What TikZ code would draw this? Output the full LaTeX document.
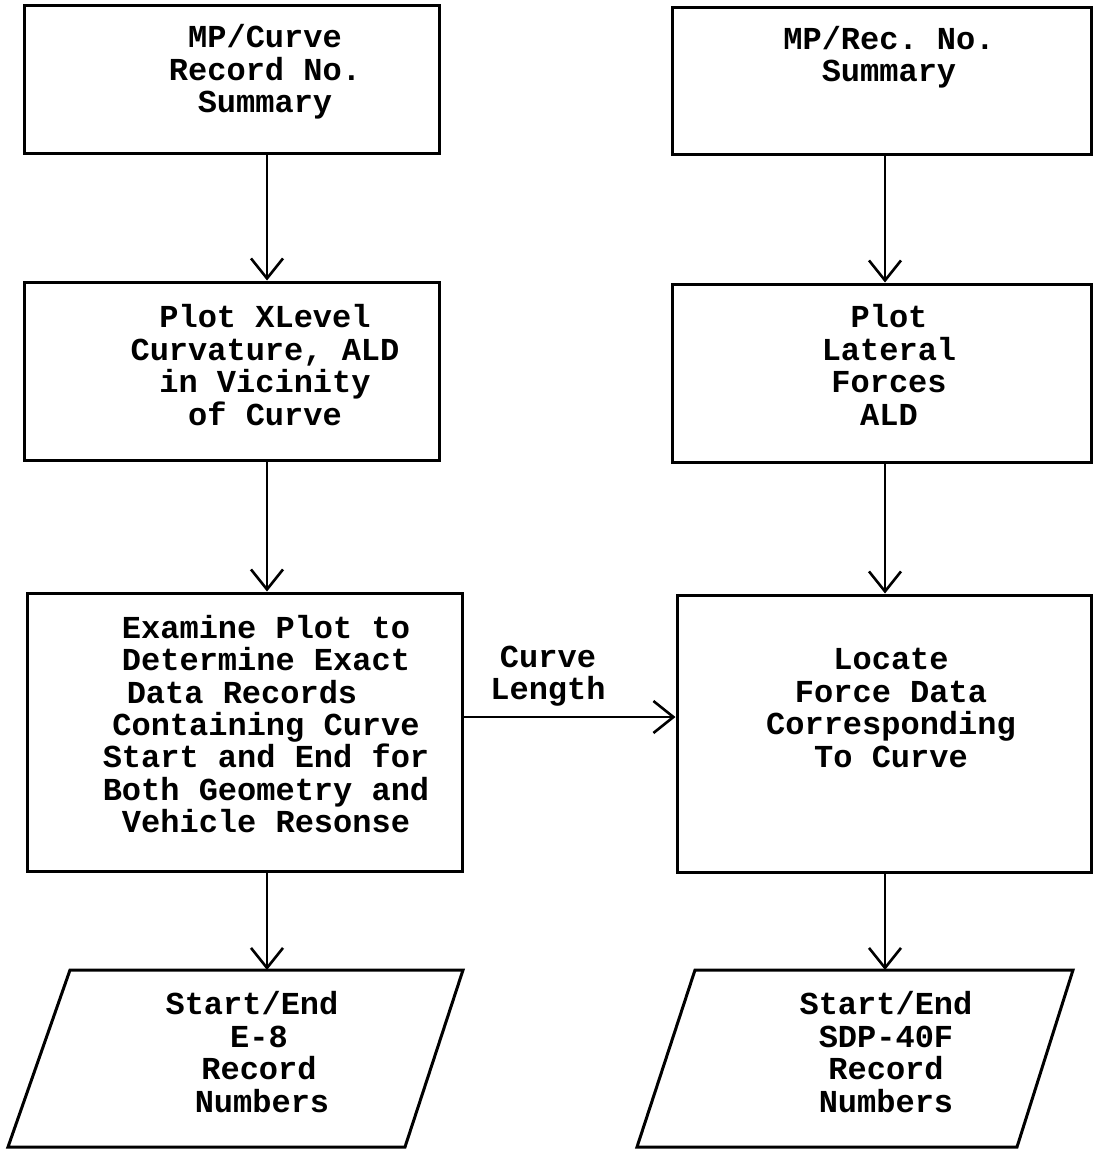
\documentclass[tikz,border=0pt]{standalone}
\usepackage{fontspec}
\setmonofont{Liberation Mono}
\usetikzlibrary{arrows.meta,fit}
\tikzset{
  box/.style={draw, line width=3pt, inner sep=0pt, fit={#1}},
  para/.style={draw, line width=3pt, line join=miter},
  txt/.style={font=\ttfamily\bfseries\fontsize{32}{32.4}\selectfont, align=center, inner sep=0pt},
  arr/.style={line width=2.6pt, -{Straight Barb[length=20pt,width=32pt,line width=2.6pt]}}
}
\begin{document}
\begin{tikzpicture}[x=1pt,y=-1pt]
\useasboundingbox (0,0) rectangle (1093,1151);
% column guides
\coordinate (lx) at (267,0);
\coordinate (rx) at (885,0);
\coordinate (ay) at (0,717);
% left column boxes
\node[box={(24,5) (439,153)}] (b1) {};
\node[txt] (t1) at (265,72) {MP/Curve\\Record No.\\Summary};
\node[box={(24,282) (439,460)}] (b2) {};
\node[txt] (t2) at (265,365) {Plot XLevel\\Curvature, ALD\\in Vicinity\\of Curve};
\node[box={(27,593) (462,871)}] (b3) {};
\node[txt] (t3) at (266,724) {Examine Plot to\\Determine Exact\\Data Records\hspace*{48pt}\mbox{}\\Containing Curve\\Start and End for\\Both Geometry and\\Vehicle Resonse};
% right column boxes
\node[box={(672,7) (1091,154)}] (r1) {};
\node[txt] (u1) at (889,57) {MP/Rec. No.\\Summary};
\node[box={(672,284) (1091,462)}] (r2) {};
\node[txt] (u2) at (889,365) {Plot\\Lateral\\Forces\\ALD};
\node[box={(677,595) (1091,872)}] (r3) {};
\node[txt] (u3) at (891,708) {Locate\\Force Data\\Corresponding\\To Curve};
% connector label
\node[txt] (cl) at (548,676) {Curve\\Length};
% parallelograms
\coordinate (pltl) at (70,970);
\coordinate (pltr) at (463,970);
\coordinate (plbr) at (405,1147);
\coordinate (plbl) at (8,1147);
\draw[para] (pltl) -- (pltr) -- (plbr) -- (plbl) -- cycle;
\node[txt] (pl) at (259,1052) {\hspace*{-14pt}Start/End\\E-8\\Record\\\hspace*{6pt}Numbers};
\coordinate (prtl) at (695,970);
\coordinate (prtr) at (1073,970);
\coordinate (prbr) at (1017,1147);
\coordinate (prbl) at (637,1147);
\draw[para] (prtl) -- (prtr) -- (prbr) -- (prbl) -- cycle;
\node[txt] (pr) at (886,1052) {Start/End\\SDP-40F\\Record\\Numbers};
% connectors
\draw[arr] (b1.south -| lx) -- (b2.north -| lx);
\draw[arr] (b2.south -| lx) -- (b3.north -| lx);
\draw[arr] (b3.south -| lx) -- (lx |- pltl);
\draw[arr] (r1.south -| rx) -- (r2.north -| rx);
\draw[arr] (r2.south -| rx) -- (r3.north -| rx);
\draw[arr] (r3.south -| rx) -- (rx |- prtl);
\draw[arr] (b3.east |- ay) -- (r3.west |- ay);
\end{tikzpicture}
\end{document}
